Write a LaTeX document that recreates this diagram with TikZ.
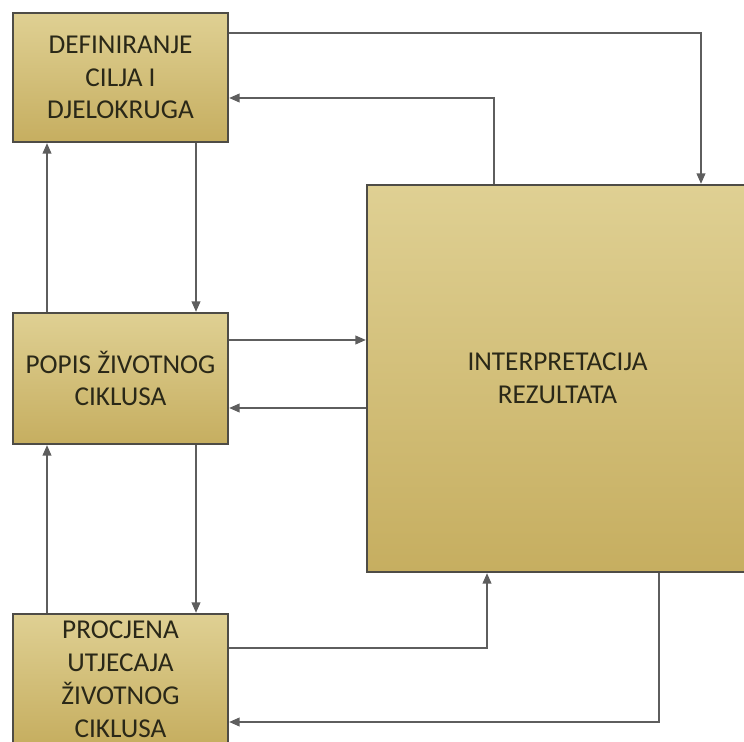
\documentclass[tikz,border=0pt]{standalone}
\usepackage{fontspec}
\setmainfont{Carlito}
\usetikzlibrary{arrows.meta}
\definecolor{boxtop}{HTML}{DFD093}
\definecolor{boxbottom}{HTML}{C6AE60}
\definecolor{boxedge}{HTML}{4E4C46}
\definecolor{flowgray}{HTML}{5E5E5E}
\definecolor{boxtext}{HTML}{2A2818}
\tikzset{
    phase-box/.style = {draw=boxedge, line width=1.3pt, rectangle, top color=boxtop, bottom color=boxbottom,
        text=boxtext, align=center, font=\fontsize{15.5}{18.7}\selectfont, inner sep=0pt},
    flow/.style = {draw=flowgray, line width=0.9pt, -{Triangle[length=6pt,width=5pt]}},
}

\begin{document}
\begin{tikzpicture}[x=0.02cm, y=-0.02cm]
\useasboundingbox (0,0) rectangle (744,742);
\clip (0,0) rectangle (744,742);
\node [phase-box, minimum width=215*0.02cm, minimum height=129*0.02cm] (def) at (120.5,77.5) {DEFINIRANJE\\CILJA I\\DJELOKRUGA};
\node [phase-box, minimum width=215*0.02cm, minimum height=131*0.02cm] (popis) at (120.5,378.5) {POPIS ŽIVOTNOG\\CIKLUSA};
\node [phase-box, minimum width=215*0.02cm, minimum height=130*0.02cm] (procjena) at (120.5,679) {PROCJENA\\UTJECAJA\\ŽIVOTNOG\\CIKLUSA};
\node [phase-box, minimum width=381*0.02cm, minimum height=387*0.02cm] (interp) at (557.5,378.5) {INTERPRETACIJA\\REZULTATA};
% top loop
\draw [flow] (def.east |- 0,33) -| (interp.north -| 701,0);
\draw [flow] (interp.north -| 494,0) |- (def.east |- 0,98);
% left column
\draw [flow] (def.south -| 196,0) -- (popis.north -| 196,0);
\draw [flow] (popis.north -| 47,0) -- (def.south -| 47,0);
\draw [flow] (popis.south -| 196,0) -- (procjena.north -| 196,0);
\draw [flow] (procjena.north -| 47,0) -- (popis.south -| 47,0);
% middle
\draw [flow] (popis.east |- 0,340) -- (interp.west |- 0,340);
\draw [flow] (interp.west |- 0,408) -- (popis.east |- 0,408);
% bottom loop
\draw [flow] (procjena.east |- 0,648) -| (interp.south -| 487,0);
\draw [flow] (interp.south -| 659,0) |- (procjena.east |- 0,722);
\end{tikzpicture}
\end{document}
